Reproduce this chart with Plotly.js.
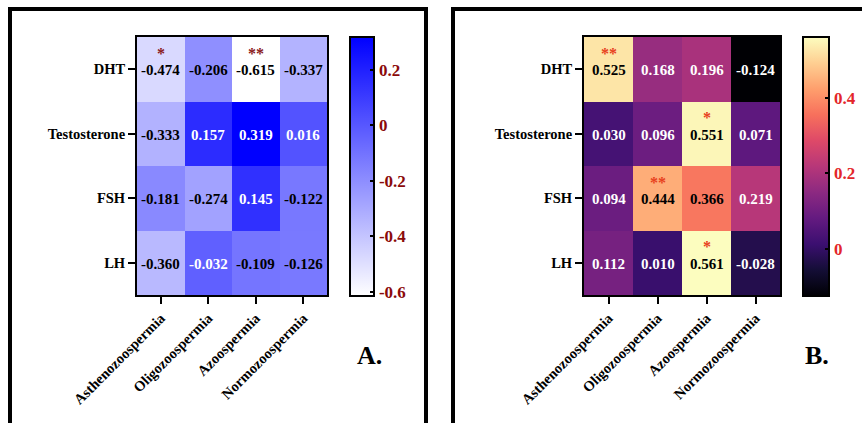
<!DOCTYPE html>
<html><head><meta charset="utf-8">
<script src="https://cdn.plot.ly/plotly-3.0.1.min.js"></script>
<style>html,body{margin:0;padding:0;background:#fff}#c{width:862px;height:423px}</style>
</head><body><div id="c"></div>
<script>
const groups = ['Asthenozoospermia','Oligozoospermia','Azoospermia','Normozoospermia'];
const hormones = ['DHT','Testosterone','FSH','LH'];
const zA = [
  [-0.474, -0.206, -0.615, -0.337],
  [-0.333,  0.157,  0.319,  0.016],
  [-0.181, -0.274,  0.145, -0.122],
  [-0.360, -0.032, -0.109, -0.126]
];
const sigA = [
  ['*','','**',''],
  ['','','',''],
  ['','','',''],
  ['','','','']
];
const zB = [
  [0.525, 0.168, 0.196, -0.124],
  [0.030, 0.096, 0.551,  0.071],
  [0.094, 0.444, 0.366,  0.219],
  [0.112, 0.010, 0.561, -0.028]
];
const sigB = [
  ['**','','',''],
  ['','','*',''],
  ['','**','',''],
  ['','','*','']
];
const ticksA = [-0.6,-0.4,-0.2,0,0.2];
const tickTextA = ['-0.6','-0.4','-0.2','0','0.2'];
const ticksB = [0,0.2,0.4];
const tickTextB = ['0','0.2','0.4'];

const FONT = 'Liberation Serif, Times New Roman, serif';
const magma = [[0,'#000004'],[0.1,'#140e36'],[0.2,'#3b0f70'],[0.3,'#641a80'],[0.4,'#8c2981'],
  [0.5,'#b73779'],[0.6,'#de4968'],[0.7,'#f7705c'],[0.8,'#fe9f6d'],[0.9,'#fecf92'],[1,'#fcfdbf']];

const traces = [
  {type:'heatmap', x:groups, y:hormones, z:zA, xaxis:'x', yaxis:'y',
   colorscale:[[0,'#ffffff'],[1,'#0000ff']], showscale:true, hoverinfo:'skip',
   colorbar:{x:350/862, xanchor:'left', y:1-166.5/423, yanchor:'middle', len:259/423, lenmode:'fraction',
     thickness:24, outlinecolor:'#000', outlinewidth:2, tickvals:ticksA, ticktext:tickTextA,
     ticks:'inside', ticklen:5, tickwidth:2, tickcolor:'#000', xpad:0, ypad:0,
     tickfont:{family:FONT, size:17, color:'#8b0a0a', weight:'bold'}}},
  {type:'heatmap', x:groups, y:hormones, z:zB, xaxis:'x2', yaxis:'y2',
   colorscale:magma, showscale:true, hoverinfo:'skip',
   colorbar:{x:803/862, xanchor:'left', y:1-166.5/423, yanchor:'middle', len:259/423, lenmode:'fraction',
     thickness:26, outlinecolor:'#000', outlinewidth:2, tickvals:ticksB, ticktext:tickTextB,
     ticks:'inside', ticklen:5, tickwidth:2, tickcolor:'#000', xpad:0, ypad:0,
     tickfont:{family:FONT, size:17, color:'#e3262a', weight:'bold'}}}
];

const annotations = [];
function addCells(z, sig, xa, ya, colorFn, sigColor){
  for (let i=0;i<hormones.length;i++){
    for (let j=0;j<groups.length;j++){
      annotations.push({x:groups[j], y:hormones[i], xref:xa, yref:ya, showarrow:false, yshift:-1,
        text:z[i][j].toFixed(3), font:{family:FONT, size:15, color:colorFn(z[i][j]), weight:'bold'}});
      if (sig[i][j]) annotations.push({x:groups[j], y:hormones[i], xref:xa, yref:ya, showarrow:false,
        text:sig[i][j], yshift:16, font:{family:FONT, size:16, color:sigColor, weight:'bold'}});
    }
  }
}
addCells(zA, sigA, 'x', 'y', v => v > -0.07 ? '#ffffff' : '#000000', '#8b1a1a');
addCells(zB, sigB, 'x2', 'y2', v => v > 0.35 ? '#000000' : '#ffffff', '#e8401c');
annotations.push({xref:'paper', yref:'paper', x:369/862, y:1-372/423, text:'A.', showarrow:false,
  font:{family:FONT, size:26, color:'#000', weight:'bold'}});
annotations.push({xref:'paper', yref:'paper', x:831/862, y:1-372/423, text:'B.', showarrow:false,
  font:{family:FONT, size:26, color:'#000', weight:'bold'}});

const axX = {type:'category', showgrid:false, zeroline:false, showline:true, linewidth:2, linecolor:'#000',
  mirror:true, ticks:'outside', ticklen:7, tickwidth:2, tickcolor:'#000', tickangle:-45,
  tickfont:{family:FONT, size:14.5, color:'#000', weight:'bold'}, fixedrange:true};
const axY = {type:'category', showgrid:false, zeroline:false, showline:true, linewidth:2, linecolor:'#000',
  mirror:true, ticks:'outside', ticklen:7, tickwidth:2, tickcolor:'#000', autorange:'reversed',
  tickfont:{family:FONT, size:14.5, color:'#000', weight:'bold'}, fixedrange:true};

const yDom = [1-295/423, 1-37/423];
const layout = {
  width:862, height:423, margin:{l:0,r:0,t:0,b:0}, paper_bgcolor:'#fff', plot_bgcolor:'#fff',
  showlegend:false,
  xaxis:Object.assign({}, axX, {domain:[137/862, 327/862], anchor:'y'}),
  yaxis:Object.assign({}, axY, {domain:yDom, anchor:'x'}),
  xaxis2:Object.assign({}, axX, {domain:[584/862, 780/862], anchor:'y2'}),
  yaxis2:Object.assign({}, axY, {domain:yDom, anchor:'x2'}),
  annotations:annotations,
  shapes:[
    {type:'rect', xref:'paper', yref:'paper', x0:10/862, x1:426/862, y0:-0.05, y1:1-9/423,
     line:{color:'#000', width:4}},
    {type:'rect', xref:'paper', yref:'paper', x0:453/862, x1:1.05, y0:-0.05, y1:1-9/423,
     line:{color:'#000', width:4}}
  ]
};
Plotly.newPlot('c', traces, layout, {staticPlot:true, displayModeBar:false});
</script></body></html>
